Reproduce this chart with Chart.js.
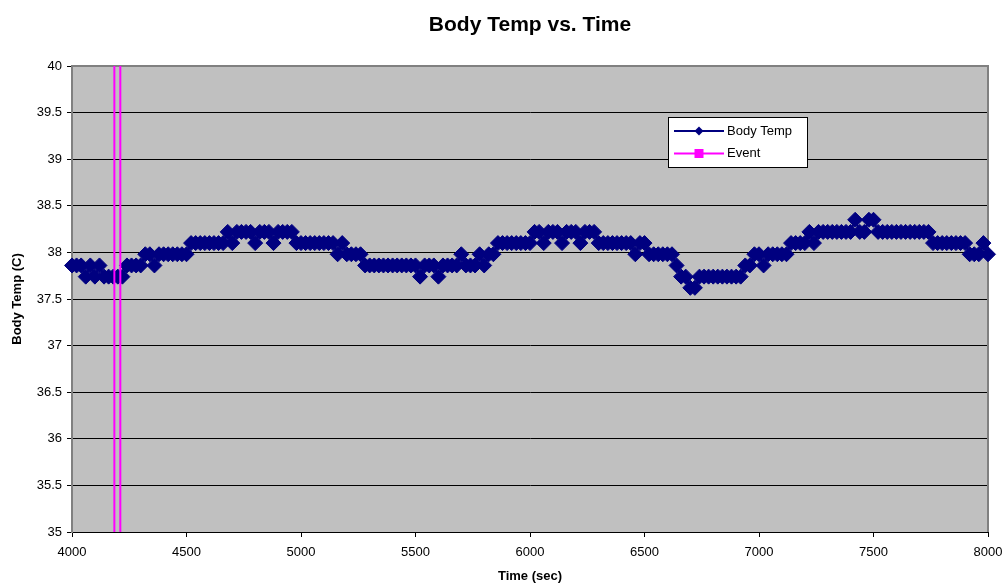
<!DOCTYPE html>
<html>
<head>
<meta charset="utf-8">
<title>Body Temp vs. Time</title>
<script src="https://cdn.jsdelivr.net/npm/chart.js@4.4.1/dist/chart.umd.min.js"></script>
<style>
  body { margin: 0; background: #fff; }
  #wrap { width: 1006px; height: 584px; position: relative; }
</style>
</head>
<body>
<div id="wrap"><canvas id="tempChart"></canvas></div>
<script>
// Body temperature log, one reading every 20 s starting at 4000 s
const startTime = 4000;
const sampleStep = 20;
const bodyTemp = [
    37.86, 37.86, 37.86, 37.74, 37.86, 37.74, 37.86, 37.74, 37.74, 37.74, // 4000
    37.74, 37.74, 37.86, 37.86, 37.86, 37.86, 37.98, 37.98, 37.86, 37.98, // 4200
    37.98, 37.98, 37.98, 37.98, 37.98, 37.98, 38.10, 38.10, 38.10, 38.10, // 4400
    38.10, 38.10, 38.10, 38.10, 38.22, 38.10, 38.22, 38.22, 38.22, 38.22, // 4600
    38.10, 38.22, 38.22, 38.22, 38.10, 38.22, 38.22, 38.22, 38.22, 38.10, // 4800
    38.10, 38.10, 38.10, 38.10, 38.10, 38.10, 38.10, 38.10, 37.98, 38.10, // 5000
    37.98, 37.98, 37.98, 37.98, 37.86, 37.86, 37.86, 37.86, 37.86, 37.86, // 5200
    37.86, 37.86, 37.86, 37.86, 37.86, 37.86, 37.74, 37.86, 37.86, 37.86, // 5400
    37.74, 37.86, 37.86, 37.86, 37.86, 37.98, 37.86, 37.86, 37.86, 37.98, // 5600
    37.86, 37.98, 37.98, 38.10, 38.10, 38.10, 38.10, 38.10, 38.10, 38.10, // 5800
    38.10, 38.22, 38.22, 38.10, 38.22, 38.22, 38.22, 38.10, 38.22, 38.22, // 6000
    38.22, 38.10, 38.22, 38.22, 38.22, 38.10, 38.10, 38.10, 38.10, 38.10, // 6200
    38.10, 38.10, 38.10, 37.98, 38.10, 38.10, 37.98, 37.98, 37.98, 37.98, // 6400
    37.98, 37.98, 37.86, 37.74, 37.74, 37.62, 37.62, 37.74, 37.74, 37.74, // 6600
    37.74, 37.74, 37.74, 37.74, 37.74, 37.74, 37.74, 37.86, 37.86, 37.98, // 6800
    37.98, 37.86, 37.98, 37.98, 37.98, 37.98, 37.98, 38.10, 38.10, 38.10, // 7000
    38.10, 38.22, 38.10, 38.22, 38.22, 38.22, 38.22, 38.22, 38.22, 38.22, // 7200
    38.22, 38.35, 38.22, 38.22, 38.35, 38.35, 38.22, 38.22, 38.22, 38.22, // 7400
    38.22, 38.22, 38.22, 38.22, 38.22, 38.22, 38.22, 38.22, 38.10, 38.10, // 7600
    38.10, 38.10, 38.10, 38.10, 38.10, 38.10, 37.98, 37.98, 37.98, 38.10, // 7800
    37.98                                                                 // 8000
];

// event markers (sec), drawn as vertical lines over the full y range
const eventTimes = [4185, 4211];

const xRange = [4000, 8000];
const xTickStep = 500;
const yRange = [35, 40];
const yTickStep = 0.5;

const seriesNames = ['Body Temp', 'Event'];
const seriesColors = ['#000080', '#ff00ff'];

const FONT = '"Liberation Sans", Arial, sans-serif';

const tempPoints = bodyTemp.map((v, i) => ({ x: startTime + i * sampleStep, y: v }));

const eventPoints = [];
eventTimes.forEach((t, i) => {
    if (i > 0) eventPoints.push({ x: t, y: null });
    eventPoints.push({ x: t, y: yRange[0] }, { x: t, y: yRange[1] });
});

// grey plot background and frame
const plotFrame = {
    id: 'plotFrame',
    beforeDraw(chart) {
        const { ctx, chartArea: a } = chart;
        ctx.save();
        ctx.fillStyle = '#c0c0c0';
        ctx.fillRect(a.left, a.top, a.width, a.height);
        ctx.restore();
    },
    beforeDatasetsDraw(chart) {
        const { ctx, chartArea: a } = chart;
        ctx.save();
        ctx.strokeStyle = '#808080';
        ctx.lineWidth = 2;
        ctx.beginPath();
        ctx.moveTo(a.left, a.top);
        ctx.lineTo(a.right, a.top);
        ctx.lineTo(a.right, a.bottom);
        ctx.stroke();
        ctx.restore();
    }
};

// chart title centred over the plot
const titleText = {
    id: 'titleText',
    afterDraw(chart) {
        const { ctx } = chart;
        ctx.save();
        ctx.font = 'bold 21px ' + FONT;
        ctx.fillStyle = '#000';
        ctx.textAlign = 'center';
        ctx.textBaseline = 'middle';
        ctx.fillText('Body Temp vs. Time', 530, 25);
        ctx.restore();
    }
};

// boxed legend inside the plot area
const boxLegend = {
    id: 'boxLegend',
    afterDraw(chart) {
        const { ctx } = chart;
        const box = { x: 668.5, y: 117.5, w: 139, h: 50 };
        ctx.save();
        ctx.fillStyle = '#fff';
        ctx.fillRect(box.x, box.y, box.w, box.h);
        ctx.strokeStyle = '#000';
        ctx.lineWidth = 1;
        ctx.strokeRect(box.x, box.y, box.w, box.h);
        ctx.font = '13px ' + FONT;
        ctx.textBaseline = 'middle';
        seriesNames.forEach((name, i) => {
            const y = 131 + i * 22.5;
            ctx.strokeStyle = seriesColors[i];
            ctx.lineWidth = 2;
            ctx.beginPath();
            ctx.moveTo(674, y);
            ctx.lineTo(724, y);
            ctx.stroke();
            ctx.fillStyle = seriesColors[i];
            ctx.beginPath();
            if (i === 0) {
                ctx.moveTo(699, y - 4.5);
                ctx.lineTo(703.5, y);
                ctx.lineTo(699, y + 4.5);
                ctx.lineTo(694.5, y);
                ctx.closePath();
            } else {
                ctx.rect(694.5, y - 4.5, 9, 9);
            }
            ctx.fill();
            ctx.fillStyle = '#000';
            ctx.fillText(name, 727, y);
        });
        ctx.restore();
    }
};

new Chart(document.getElementById('tempChart'), {
    type: 'line',
    data: {
        datasets: [{
            label: seriesNames[1],
            data: eventPoints,
            borderColor: seriesColors[1],
            borderWidth: 2,
            pointRadius: 0,
            spanGaps: false,
            order: 0
        }, {
            label: seriesNames[0],
            data: tempPoints,
            borderColor: seriesColors[0],
            backgroundColor: seriesColors[0],
            borderWidth: 2,
            pointStyle: 'rectRot',
            pointRadius: 7.5,
            pointBorderWidth: 1,
            clip: false,
            order: 1
        }]
    },
    options: {
        responsive: true,
        maintainAspectRatio: false,
        animation: false,
        layout: { padding: { top: 66, right: 18, left: 0, bottom: 0 } },
        plugins: {
            legend: { display: false },
            tooltip: { enabled: false },
            title: { display: false }
        },
        scales: {
            x: {
                type: 'linear',
                min: xRange[0],
                max: xRange[1],
                afterFit(scale) {
                    scale.height = 52;
                    scale.paddingLeft = 0;
                    scale.paddingRight = 0;
                },
                ticks: {
                    stepSize: xTickStep,
                    color: '#000',
                    font: { family: FONT, size: 13 },
                    padding: 8,
                    maxRotation: 0,
                    callback: v => String(v)
                },
                grid: { drawOnChartArea: false, color: '#000', tickLength: 5 },
                border: { color: '#000', width: 1 },
                title: {
                    display: true,
                    text: 'Time (sec)',
                    color: '#000',
                    font: { family: FONT, size: 13, weight: 'bold' },
                    padding: { top: 0, bottom: 0 }
                }
            },
            y: {
                min: yRange[0],
                max: yRange[1],
                afterFit(scale) { scale.width = 72; },
                ticks: {
                    stepSize: yTickStep,
                    color: '#000',
                    font: { family: FONT, size: 13 },
                    padding: 5,
                    callback: v => String(v)
                },
                grid: { color: '#000', tickLength: 5 },
                border: { color: '#808080', width: 2 },
                title: {
                    display: true,
                    text: 'Body Temp (C)',
                    color: '#000',
                    font: { family: FONT, size: 13, weight: 'bold' },
                    padding: { top: 10, bottom: 0 }
                }
            }
        }
    },
    plugins: [plotFrame, titleText, boxLegend]
});
</script>
</body>
</html>
